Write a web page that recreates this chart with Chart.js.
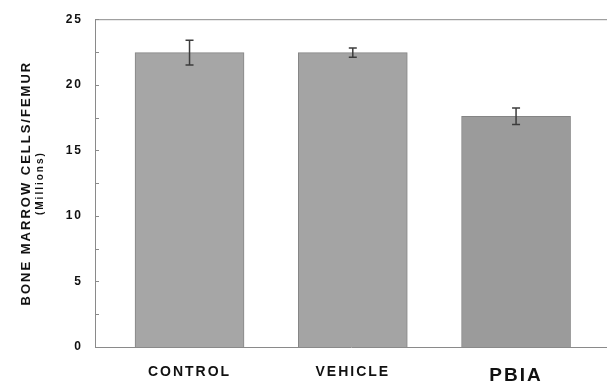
<!DOCTYPE html>
<html>
<head>
<meta charset="utf-8">
<script src="https://cdn.jsdelivr.net/npm/chart.js@4/dist/chart.umd.min.js"></script>
<style>
  html, body { margin: 0; padding: 0; background: #fff; }
  canvas { display: block; }
</style>
</head>
<body>
<canvas id="chart" width="607" height="382"></canvas>
<script>
const categories = ['CONTROL', 'VEHICLE', 'PBIA']
const cellCounts = [22.45, 22.45, 17.6]     // millions per femur
const cellErrors = [0.95, 0.35, 0.63]
const yTicks     = [0, 5, 10, 15, 20, 25]
const yTitle     = 'BONE MARROW CELLS/FEMUR'
const yUnits     = '(Millions)'

Chart.defaults.font.family = '"Liberation Sans", Arial, sans-serif'
Chart.defaults.color = '#111'

// wide letter spacing like the original typesetting
const spacing = {
  id: 'spacing',
  beforeDraw(chart) { chart.ctx.letterSpacing = '2px' },
}

// frame top line, inward ticks every 2.5, error bars
const extras = {
  id: 'extras',
  afterDatasetsDraw(chart) {
    const ctx = chart.ctx
    const ys  = chart.scales.y
    const bars = chart.getDatasetMeta(0).data
    ctx.save()
    ctx.strokeStyle = '#3c3c3c'
    ctx.lineWidth = 1.5
    bars.forEach((bar, i) => {
      const top = ys.getPixelForValue(cellCounts[i] + cellErrors[i])
      const bot = ys.getPixelForValue(cellCounts[i] - cellErrors[i])
      ctx.beginPath()
      ctx.moveTo(bar.x, top); ctx.lineTo(bar.x, bot)
      ctx.moveTo(bar.x - 4, top); ctx.lineTo(bar.x + 4, top)
      ctx.moveTo(bar.x - 4, bot); ctx.lineTo(bar.x + 4, bot)
      ctx.stroke()
    })
    ctx.restore()
  },
  afterDraw(chart) {
    const ctx = chart.ctx
    const { left, right, top } = chart.chartArea
    const ys = chart.scales.y
    ctx.save()
    ctx.strokeStyle = '#8a8a8a'
    ctx.lineWidth = 1
    ctx.beginPath()
    ctx.moveTo(left, top + 0.5); ctx.lineTo(right, top + 0.5)
    for (let v = ys.min; v <= ys.max; v += 2.5) {
      const y = Math.round(ys.getPixelForValue(v)) + 0.5
      ctx.moveTo(left, y); ctx.lineTo(left + 4, y)
    }
    ctx.stroke()
    ctx.restore()
  },
}

new Chart(document.getElementById('chart'), {
  type: 'bar',
  data: {
    datasets: [{
      data: cellCounts.map((v, i) => ({ x: i + 1, y: v })),
      backgroundColor: ['#a6a6a6', '#a4a4a4', '#9b9b9b'],
      borderColor: '#858585',
      borderWidth: 1,
      barThickness: 109,
    }],
  },
  options: {
    responsive: false,
    animation: false,
    layout: { padding: { top: 17, left: 0, right: 0, bottom: 0 } },
    plugins: {
      legend: { display: false },
      tooltip: { enabled: false },
    },
    scales: {
      x: {
        type: 'linear',
        offset: false,
        min: 0.421, max: 3.557,
        afterBuildTicks: s => { s.ticks = categories.map((c, i) => ({ value: i + 1 })) },
        ticks: {
          autoSkip: false,
          maxRotation: 0,
          padding: 17,
          callback: (v, i) => categories[i],
          font: ctx => ({ size: ctx.index === 2 ? 19 : 14, weight: 'bold' }),
        },
        grid: { display: false, drawTicks: false, offset: false },
        border: { color: '#8a8a8a', width: 1 },
        afterFit: s => { s.height = 35 },
      },
      y: {
        type: 'linear',
        position: 'left',
        weight: 0,
        min: 0, max: 25,
        afterBuildTicks: s => { s.ticks = yTicks.map(v => ({ value: v })) },
        ticks: { padding: 12, font: { size: 12, weight: 'bold' } },
        grid: { display: false, drawTicks: false },
        border: { color: '#8a8a8a', width: 1 },
        afterFit: s => { s.width = 51 },
      },
      yUnits: {
        type: 'linear',
        position: 'left',
        weight: 1,
        ticks: { display: false },
        grid: { display: false, drawTicks: false },
        border: { display: false },
        title: { display: true, text: yUnits, padding: { top: 2, bottom: 0 }, font: { size: 10, weight: 'bold' } },
        afterFit: s => { s.width = 12 },
      },
      yTitle: {
        type: 'linear',
        position: 'left',
        weight: 2,
        ticks: { display: false },
        grid: { display: false, drawTicks: false },
        border: { display: false },
        title: { display: true, text: yTitle, padding: { top: 19, bottom: 0 }, font: { size: 13, weight: 'bold' } },
        afterFit: s => { s.width = 32 },
      },
    },
  },
  plugins: [spacing, extras],
})
</script>
</body>
</html>
